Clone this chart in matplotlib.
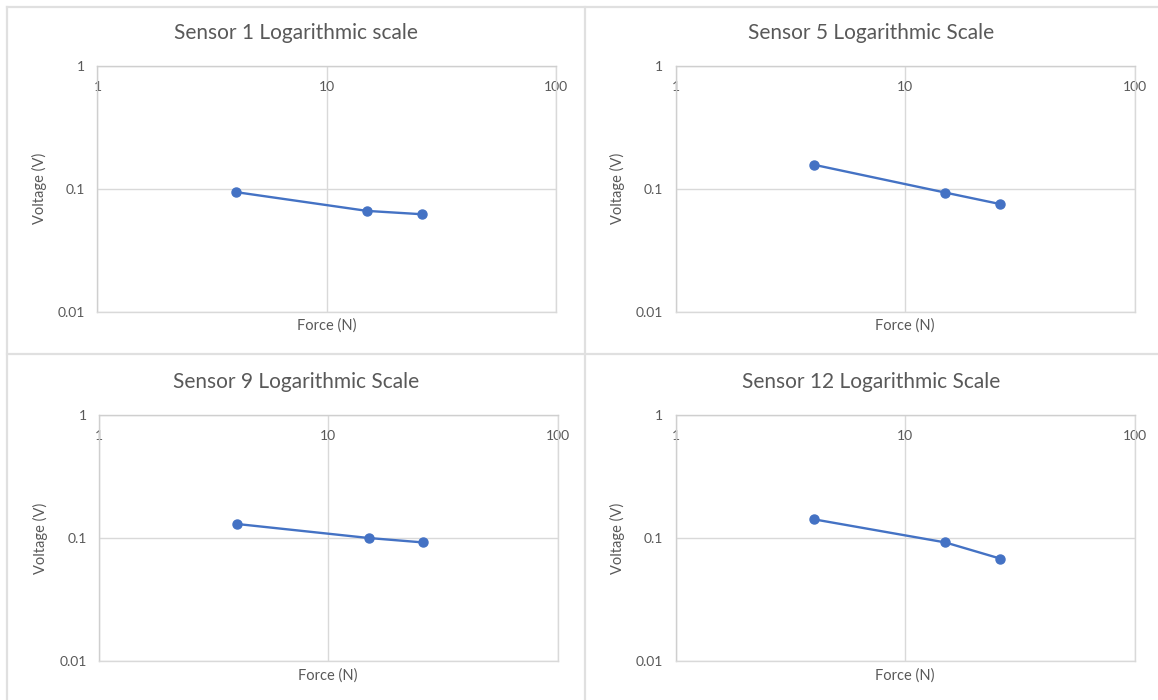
import matplotlib
matplotlib.use("Agg")
import matplotlib.pyplot as plt
from matplotlib.lines import Line2D
from matplotlib.ticker import NullLocator

plt.rcParams['font.family'] = ['Lato', 'DejaVu Sans']

# ---- data ----
force = [4, 15, 26]
sensor1 = [0.094, 0.066, 0.062]
sensor5 = [0.157, 0.093, 0.075]
sensor9 = [0.130, 0.100, 0.092]
sensor12 = [0.142, 0.092, 0.068]
titles = ["Sensor 1 Logarithmic scale", "Sensor 5 Logarithmic Scale",
          "Sensor 9 Logarithmic Scale", "Sensor 12 Logarithmic Scale"]
series = [sensor1, sensor5, sensor9, sensor12]
x_ticks = [1, 10, 100]
x_tick_labels = ["1", "10", "100"]
y_ticks = [0.01, 0.1, 1]
y_tick_labels = ["0.01", "0.1", "1"]
x_label = "Force (N)"
y_label = "Voltage (V)"

W, H = 1158, 700
fig = plt.figure(figsize=(W / 100, H / 100), dpi=100)

BLUE = "#4472C4"
GRID = "#d9d9d9"
TEXT = "#595959"
BORDER = "#e0e0e0"

# panel frames (pixel coords: left, top, right, bottom) and plot areas
panels = [
    dict(frame=(7, 7, 585, 354), plot=(97.5, 66, 556, 311.5)),
    dict(frame=(585, 7, 1158, 354), plot=(675.5, 66, 1134.5, 311.5)),
    dict(frame=(7, 354, 585, 700), plot=(99, 415, 557.5, 661)),
    dict(frame=(585, 354, 1158, 700), plot=(675.5, 415, 1134.5, 661)),
]

def fx(px):
    return px / W

def fy(py):
    return 1 - py / H

# separator lines
for (x0, y0, x1, y1) in [(7, 7, 1158, 7), (7, 7, 7, 700), (585, 7, 585, 700), (7, 354, 1158, 354)]:
    fig.add_artist(Line2D([fx(x0), fx(x1)], [fy(y0), fy(y1)], color=BORDER, lw=1.6,
                          transform=fig.transFigure))

for p, title, vals in zip(panels, titles, series):
    l, t, r, b = p["plot"]
    ax = fig.add_axes([fx(l), fy(b), (r - l) / W, (b - t) / H])
    ax.set_xscale('log')
    ax.set_yscale('log')
    ax.set_xlim(1, 100)
    ax.set_ylim(0.01, 1)
    ax.plot(force, vals, color=BLUE, lw=1.7, marker='o', markersize=6.5,
            markerfacecolor=BLUE, markeredgecolor=BLUE, zorder=3, clip_on=False)
    ax.set_xticks(x_ticks)
    ax.set_xticklabels(x_tick_labels)
    ax.set_yticks(y_ticks)
    ax.set_yticklabels(y_tick_labels)
    ax.xaxis.set_minor_locator(NullLocator())
    ax.yaxis.set_minor_locator(NullLocator())
    ax.grid(True, which='major', color=GRID, lw=1.0, zorder=0)
    ax.set_axisbelow(True)
    for s in ax.spines.values():
        s.set_color(GRID)
        s.set_linewidth(1.0)
    ax.spines['left'].set_color("#cfcfcf")
    ax.spines['top'].set_color("#cfcfcf")
    ax.tick_params(axis='x', top=True, bottom=False, labeltop=True, labelbottom=False,
                   length=0, pad=-19.5, labelsize=10, labelcolor=TEXT)
    ax.tick_params(axis='y', length=0, pad=9, labelsize=10, labelcolor=TEXT)
    ax.set_xlabel(x_label, fontsize=10.5, color=TEXT, labelpad=5)
    ax.set_ylabel(y_label, fontsize=10.5, color=TEXT, labelpad=8)
    ax.xaxis.set_label_position('bottom')

    fl, ft, fr, fb = p["frame"]
    fig.text(fx((fl + fr) / 2), fy(t - 33), title, ha='center', va='center',
             fontsize=15, color=TEXT)

fig.savefig("out.png", dpi=100)
